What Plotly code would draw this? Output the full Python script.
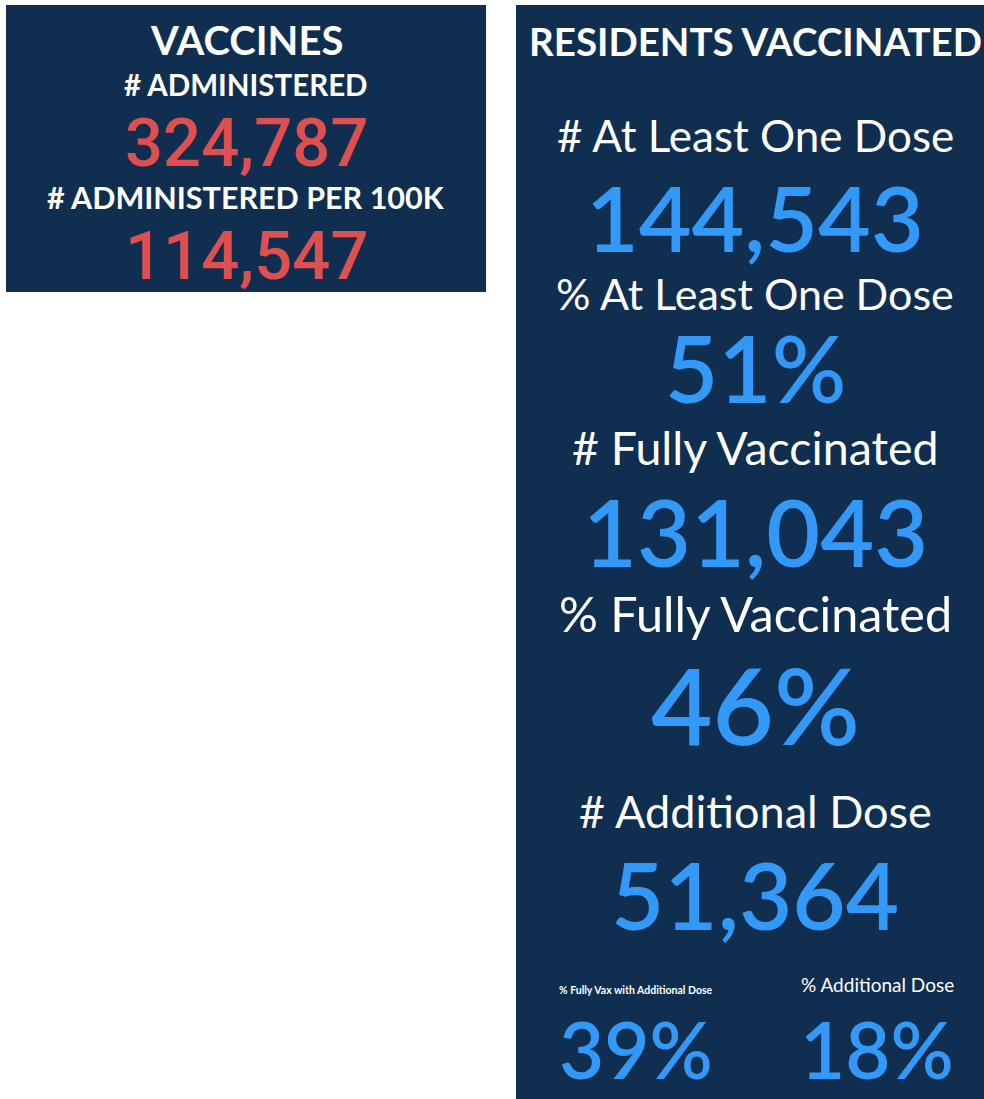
import plotly.graph_objects as go

# ---- data ----
left_title = "VACCINES"
left_labels = ["# ADMINISTERED", "# ADMINISTERED PER 100K"]
left_values = ["324,787", "114,547"]

right_title = "RESIDENTS VACCINATED"
right_labels = ["# At Least One Dose", "% At Least One Dose", "# Fully Vaccinated",
                "% Fully Vaccinated", "# Additional Dose"]
right_values = ["144,543", "51%", "131,043", "46%", "51,364"]
bottom_labels = ["% Fully Vax with Additional Dose", "% Additional Dose"]
bottom_values = ["39%", "18%"]

# ---- styles ----
W, H = 984, 1099
BG = "#102E50"
RED = "#DE5050"
BLUE = "#3399F8"
WHITE = "#FFFFFF"
LABEL_FONT = "Lato"
NUM_FONT_L = "Roboto"
NUM_FONT_R = "Lato"

fig = go.Figure()
fig.add_trace(go.Scatter(x=[0, W], y=[0, H], mode="markers", marker=dict(opacity=0),
                         hoverinfo="skip", showlegend=False))

# panels
fig.add_shape(type="rect", x0=6, x1=486, y0=5, y1=292, fillcolor=BG, line_width=0, layer="below")
fig.add_shape(type="rect", x0=516, x1=984, y0=5, y1=1099, fillcolor=BG, line_width=0, layer="below")

def txt(x, y, s, size, color, family, weight="normal", yanchor="middle"):
    fig.add_annotation(x=x, y=y, text=s, showarrow=False, xanchor="center", yanchor=yanchor,
                       font=dict(size=size, color=color, family=family, weight=weight))

# left panel
lx = 246
txt(lx, 40, left_title, 40, WHITE, LABEL_FONT, "bold")
left_label_y = [84, 197]
left_label_size = [29.5, 30.5]
left_value_y = [143, 256]
for lab, val, ly, vy, ls in zip(left_labels, left_values, left_label_y, left_value_y, left_label_size):
    txt(lx, ly, lab, ls, WHITE, LABEL_FONT, "bold")
    txt(lx, vy, val, 67, RED, NUM_FONT_L, 500)

# right panel
rx = 755
txt(rx, 41, right_title, 38.5, WHITE, LABEL_FONT, "bold")
right_label_y = [135, 293, 447, 613, 811]
right_label_size = [44, 43, 46.5, 48.5, 45]
right_value_y = [216, 367, 531, 704, 894]
right_value_size = [91, 92, 93, 106, 92]
for lab, val, ly, vy, ls, vs in zip(right_labels, right_values, right_label_y, right_value_y,
                                    right_label_size, right_value_size):
    txt(rx, ly, lab, ls, WHITE, LABEL_FONT, "normal")
    txt(rx, vy, val, vs, BLUE, NUM_FONT_R, 600)

bx = [636, 877]
txt(bx[0], 990, bottom_labels[0], 10.5, WHITE, LABEL_FONT, "bold")
txt(bx[1], 984, bottom_labels[1], 19, WHITE, LABEL_FONT, "normal")
for x, val in zip(bx, bottom_values):
    txt(x, 1098, val, 78, BLUE, NUM_FONT_R, 600, yanchor="bottom")

fig.update_layout(
    width=W, height=H, margin=dict(l=0, r=0, t=0, b=0),
    paper_bgcolor="white", plot_bgcolor="white",
    xaxis=dict(range=[0, W], visible=False, fixedrange=True),
    yaxis=dict(range=[H, 0], visible=False, fixedrange=True),
)
fig.write_html("out.html", config={"displayModeBar": False},
               post_script="document.body.style.margin='0';document.body.style.overflow='hidden';")
